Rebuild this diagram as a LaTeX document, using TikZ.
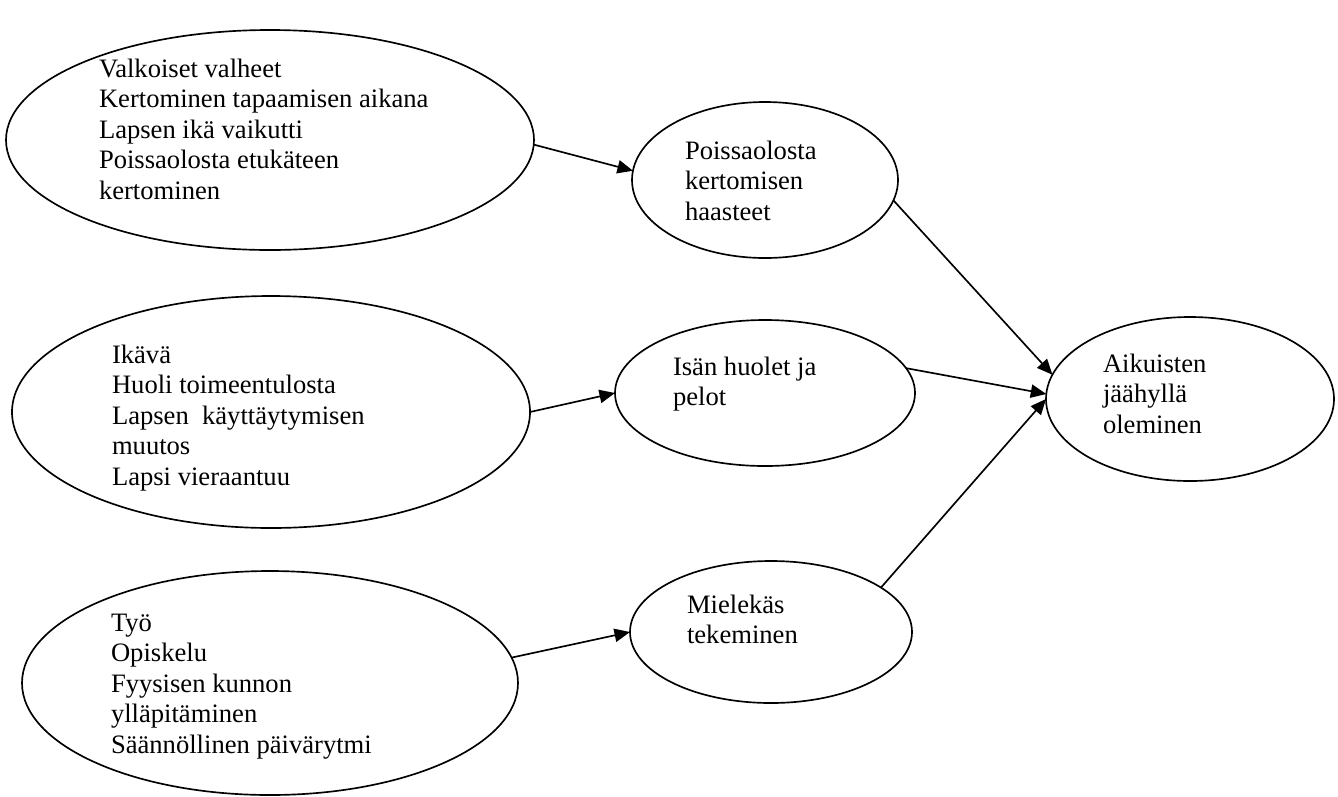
\documentclass[tikz,border=0pt]{standalone}
\usepackage{fontspec}
\setmainfont{Liberation Serif}
\usetikzlibrary{shapes.geometric,arrows.meta}
\tikzset{
  oval/.style n args={2}{ellipse, draw, line width=0.75pt, inner sep=0pt, outer sep=0pt,
    minimum width={2*#1*0.01586cm}, minimum height={2*#2*0.01586cm}},
  txt/.style={anchor=north west, align=left, inner sep=0pt, outer sep=0pt,
    font=\fontsize{12}{13.8}\selectfont},
  link/.style={line width=0.75pt, -{Triangle[length=7pt,width=6pt]}}
}
\begin{document}
\begin{tikzpicture}[x=0.01586cm, y=-0.01586cm]
\useasboundingbox (0,0) rectangle (1338,796);
% ellipses
\node[oval={264}{110}] (E1) at (270,140) {};
\node[oval={259}{116}] (E2) at (271,412) {};
\node[oval={248}{112}] (E3) at (270,683) {};
\node[oval={133}{78}] (EA) at (765,180) {};
\node[oval={150}{73}] (EB) at (765,393) {};
\node[oval={141}{71}] (EC) at (771,632) {};
\node[oval={144}{82}] (ED) at (1190,399) {};
% texts
\node[txt] (t1) at (99,55.6) {\strut Valkoiset valheet\\Kertominen tapaamisen aikana\\Lapsen ikä vaikutti\\Poissaolosta etukäteen\\kertominen};
\node[txt] (t2) at (112,341.6) {\strut Ikävä\\Huoli toimeentulosta\\Lapsen\ \ käyttäytymisen\\muutos\\Lapsi vieraantuu};
\node[txt] (t3) at (111,609.6) {\strut Työ\\Opiskelu\\Fyysisen kunnon\\ylläpitäminen\\Säännöllinen päivärytmi};
\node[txt] (tA) at (685,137.6) {\strut Poissaolosta\\kertomisen\\haasteet};
\node[txt] (tB) at (673,353.6) {\strut Isän huolet ja\\pelot};
\node[txt] (tC) at (687,591.6) {\strut Mielekäs\\tekeminen};
\node[txt] (tD) at (1103,350.6) {\strut Aikuisten\\jäähyllä\\oleminen};
% connectors
\draw[link] (E1.-1) -- (EA.176);
\draw[link] (E2.east) -- (EB.west);
\draw[link] (E3.6) -- (EC.west);
\draw[link] (EA.-9) -- (ED.170);
\draw[link] (EB.10) -- (ED.178);
\draw[link] (EC.22) -- (ED.west);
\end{tikzpicture}
\end{document}
